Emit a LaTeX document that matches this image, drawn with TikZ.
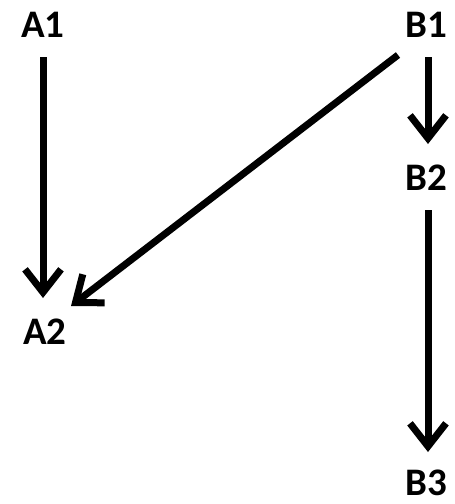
\documentclass[tikz,border=0pt]{standalone}
\usepackage{fontspec}
\setmainfont{Carlito}
\usetikzlibrary{arrows.meta}
\tikzset{
  lbl/.style={font=\fontsize{39}{42}\selectfont\bfseries, inner sep=0pt, text height=25pt, text depth=0pt, anchor=center},
  arr/.style={line width=7pt, -{Straight Barb[length=23pt,width=36pt]}},
}
\begin{document}
\begin{tikzpicture}[x=1pt,y=-1pt]
\useasboundingbox (0,0) rectangle (455,504);
\node[lbl] (a1) at (43,25) {A1};
\node[lbl] (b1) at (426,25) {B1};
\node[lbl] (b2) at (426,178) {B2};
\node[lbl] (a2) at (45,332) {A2};
\node[lbl] (b3) at (426,483) {B3};
\draw[arr] ([xshift=0pt,yshift=-32pt]a1.center) -- ([xshift=-2pt,yshift=34pt]a2.center);
\draw[arr] ([xshift=2pt,yshift=-32pt]b1.center) -- ([xshift=2pt,yshift=34pt]b2.center);
\draw[arr] ([xshift=2pt,yshift=-32pt]b2.center) -- ([xshift=2pt,yshift=31pt]b3.center);
\draw[arr] ([xshift=-28pt,yshift=-30pt]b1.center) -- ([xshift=26pt,yshift=26pt]a2.center);
\end{tikzpicture}
\end{document}
